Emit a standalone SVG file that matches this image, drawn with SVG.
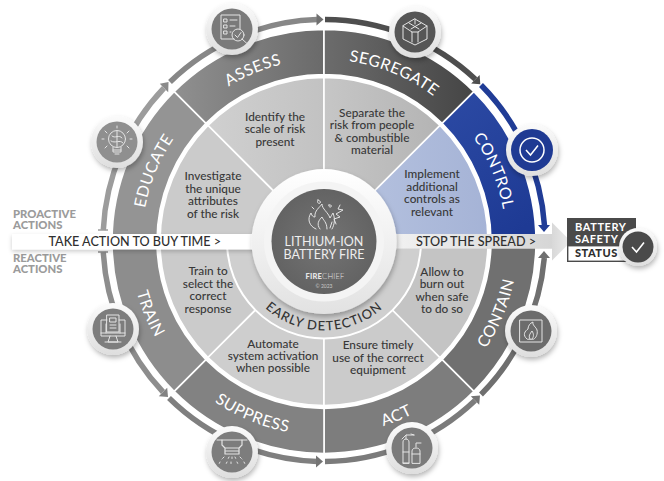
<svg xmlns="http://www.w3.org/2000/svg" xmlns:xlink="http://www.w3.org/1999/xlink" width="664" height="481" viewBox="0 0 664 481">
<style>
text{font-family:"Lato","Open Sans","Liberation Sans",sans-serif}
.body{font-size:11.8px;fill:#383838;text-anchor:middle;font-weight:500}
.seg{font-size:16px;fill:#fff;text-anchor:middle;letter-spacing:.5px}
.side{font-size:11.3px;font-weight:900;fill:#9b9b9b}
.bar{font-size:12.6px;fill:#2f2f2f;font-weight:500}
.sector{stroke:#fff;stroke-width:1.6}
.wedge{stroke:#fff;stroke-width:1.6}
.band{fill:none;stroke-width:5.5}
.ring{fill:url(#ringG);filter:url(#sh)}
.ic{fill:none;stroke:#e4e4e4;stroke-width:1;stroke-linecap:round;stroke-linejoin:round}
</style>
<defs>
<filter id="sh" x="-30%" y="-30%" width="160%" height="170%"><feDropShadow dx="1" dy="3" stdDeviation="2.5" flood-color="#000" flood-opacity=".28"/></filter>
<filter id="sb" x="-5%" y="-50%" width="110%" height="220%"><feDropShadow dx="0" dy="2" stdDeviation="2" flood-color="#000" flood-opacity=".2"/></filter>
<linearGradient id="ringG" x1="0" y1="0" x2="0" y2="1"><stop offset="0" stop-color="#fbfbfb"/><stop offset="1" stop-color="#dedede"/></linearGradient>
<linearGradient id="gAssess" gradientUnits="userSpaceOnUse" x1="174" y1="0" x2="324" y2="0"><stop offset="0" stop-color="#909090"/><stop offset="1" stop-color="#6a6a6a"/></linearGradient>
<linearGradient id="gSeg" gradientUnits="userSpaceOnUse" x1="324" y1="0" x2="474" y2="0"><stop offset="0" stop-color="#6c6c6c"/><stop offset="1" stop-color="#454545"/></linearGradient>
<linearGradient id="gCtl" gradientUnits="userSpaceOnUse" x1="445" y1="90" x2="536" y2="220"><stop offset="0" stop-color="#2c4aa4"/><stop offset="1" stop-color="#1e3a94"/></linearGradient>
<linearGradient id="gBlue" gradientUnits="userSpaceOnUse" x1="370" y1="0" x2="488" y2="0"><stop offset="0" stop-color="#b3c0de"/><stop offset="1" stop-color="#a5b3d6"/></linearGradient>
<linearGradient id="gSep" gradientUnits="userSpaceOnUse" x1="324" y1="0" x2="440" y2="0"><stop offset="0" stop-color="#c6c6c6"/><stop offset="1" stop-color="#b4b4b4"/></linearGradient>
<linearGradient id="gId" gradientUnits="userSpaceOnUse" x1="208" y1="0" x2="324" y2="0"><stop offset="0" stop-color="#d0d0d0"/><stop offset="1" stop-color="#c2c2c2"/></linearGradient>
<linearGradient id="gBar" gradientUnits="userSpaceOnUse" x1="390" y1="0" x2="552" y2="0"><stop offset="0" stop-color="#f2f2f2"/><stop offset="1" stop-color="#d6d6d6"/></linearGradient>
<linearGradient id="gHead" gradientUnits="userSpaceOnUse" x1="550" y1="0" x2="571" y2="0"><stop offset="0" stop-color="#d6d6d6"/><stop offset="1" stop-color="#ececec"/></linearGradient>
<radialGradient id="gHub" cx=".5" cy=".5" r=".5"><stop offset="0" stop-color="#747474"/><stop offset="1" stop-color="#636363"/></radialGradient>
<linearGradient id="gHubR" x1="0" y1="0" x2="0" y2="1"><stop offset="0" stop-color="#ffffff"/><stop offset="1" stop-color="#e2e2e2"/></linearGradient>
<path id="pAssess" d="M162.6 157.5A182 182 0 0 1 378.7 67.9"/>
<path id="pSeg" d="M269.3 67.9A182 182 0 0 1 485.4 157.5"/>
<path id="pCtl" d="M408 80.1A182 182 0 0 1 497.6 296.2"/>
<path id="pEdu" d="M150.4 296.2A182 182 0 0 1 240 80.1"/>
<path id="pCon" d="M413.6 413.6A194 194 0 0 0 509 183.2"/>
<path id="pAct" d="M265.7 426.5A194 194 0 0 0 496.1 331.1"/>
<path id="pSup" d="M151.9 331.1A194 194 0 0 0 382.3 426.5"/>
<path id="pTra" d="M139 183.2A194 194 0 0 0 234.4 413.6"/>
<path id="pEarly" d="M247 286A89 89 0 0 0 401 286"/>
</defs>

<rect width="664" height="481" fill="#fff"/>

<g id="sectors">
<path class="wedge" fill="url(#gId)" d="M324 241.5L208 125.5A164 164 0 0 1 324 77.5Z"/>
<path class="wedge" fill="url(#gSep)" d="M324 241.5V77.5A164 164 0 0 1 440 125.5Z"/>
<path class="wedge" fill="url(#gBlue)" d="M324 241.5L440 125.5A164 164 0 0 1 488 241.5Z"/>
<path class="wedge" fill="#cbcbcb" d="M324 241.5H160A164 164 0 0 1 208 125.5Z"/>
<path class="wedge" fill="#cbcbcb" d="M324 241.5L208 357.5A164 164 0 0 1 160 241.5Z"/>
<path class="wedge" fill="#cecece" d="M324 241.5V405.5A164 164 0 0 1 208 357.5Z"/>
<path class="wedge" fill="#cbcbcb" d="M324 241.5L440 357.5A164 164 0 0 1 324 405.5Z"/>
<path class="wedge" fill="#c4c4c4" d="M324 241.5H488A164 164 0 0 1 440 357.5Z"/>
<path fill="#cfcfcf" stroke="#fff" stroke-width="2" d="M227 241.5A97 97 0 0 0 421 241.5Z"/>
</g>

<g id="connectors">
<path class="band" stroke="#9c9c9c" d="M103.3 230A221 221 0 0 1 164 88"/>
<path class="band" stroke="#878787" d="M170 82A221 221 0 0 1 317 19.5"/>
<path class="band" stroke="#4e4e4e" d="M325 19.5A221 221 0 0 1 475.4 79.3"/>
<path class="band" stroke="#203c96" d="M481 85A221 221 0 0 1 544.5 225.5"/>
<path class="band" stroke="#6f6f6f" d="M544.3 258A221 221 0 0 1 481 394.5"/>
<path class="band" stroke="#7b7b7b" d="M475 400.5A221 221 0 0 1 325 461.5"/>
<path class="band" stroke="#7f7f7f" d="M317 461.5A221 221 0 0 1 169 398"/>
<path class="band" stroke="#8d8d8d" d="M163 392A221 221 0 0 1 103.3 252"/>
<path fill="#8a8a8a" d="M168.5 82L159.8 83.8L168.2 92.2Z"/>
<path fill="#707070" d="M323.5 19.5L316.5 13.5V25.5Z"/>
<path fill="#4e4e4e" d="M480.3 84.2L479.6 75.1L471.2 83.5Z"/>
<path fill="#203c96" d="M544 232L538 225H550Z"/>
<path fill="#6f6f6f" d="M544 251L538 258H550Z"/>
<path fill="#747474" d="M480 395.5L470.8 396.3L479.2 404.7Z"/>
<path fill="#747474" d="M323 461.5L316 455.5V467.5Z"/>
<path fill="#828282" d="M168 397L158.8 396.2L167.2 387.8Z"/>
<path stroke="#9c9c9c" stroke-width="1.5" d="M98 230H108"/>
<path stroke="#8d8d8d" stroke-width="1.5" d="M98 252H108"/>
</g>

<g id="ASSESS"><path class="sector" fill="url(#gAssess)" d="M174.1 91.6A212 212 0 0 1 324 29.5V74.5A167 167 0 0 0 205.9 123.4Z"/><text class="seg"><textPath href="#pAssess" xlink:href="#pAssess" startOffset="50%">ASSESS</textPath></text></g>
<g id="SEGREGATE"><path class="sector" fill="url(#gSeg)" d="M324 29.5A212 212 0 0 1 473.9 91.6L442.1 123.4A167 167 0 0 0 324 74.5Z"/><text class="seg"><textPath href="#pSeg" xlink:href="#pSeg" startOffset="50%">SEGREGATE</textPath></text></g>
<g id="CONTROL"><path class="sector" fill="url(#gCtl)" d="M473.9 91.6A212 212 0 0 1 536 241.5H491A167 167 0 0 0 442.1 123.4Z"/><text class="seg"><textPath href="#pCtl" xlink:href="#pCtl" startOffset="50%">CONTROL</textPath></text></g>
<g id="CONTAIN"><path class="sector" fill="#707070" d="M536 241.5A212 212 0 0 1 473.9 391.4L442.1 359.6A167 167 0 0 0 491 241.5Z"/><text class="seg"><textPath href="#pCon" xlink:href="#pCon" startOffset="50%">CONTAIN</textPath></text></g>
<g id="ACT"><path class="sector" fill="#7d7d7d" d="M473.9 391.4A212 212 0 0 1 324 453.5V408.5A167 167 0 0 0 442.1 359.6Z"/><text class="seg"><textPath href="#pAct" xlink:href="#pAct" startOffset="50%">ACT</textPath></text></g>
<g id="SUPPRESS"><path class="sector" fill="#828282" d="M324 453.5A212 212 0 0 1 174.1 391.4L205.9 359.6A167 167 0 0 0 324 408.5Z"/><text class="seg"><textPath href="#pSup" xlink:href="#pSup" startOffset="50%">SUPPRESS</textPath></text></g>
<g id="TRAIN"><path class="sector" fill="#8d8d8d" d="M174.1 391.4A212 212 0 0 1 112 241.5H157A167 167 0 0 0 205.9 359.6Z"/><text class="seg"><textPath href="#pTra" xlink:href="#pTra" startOffset="50%">TRAIN</textPath></text></g>
<g id="EDUCATE"><path class="sector" fill="#949494" d="M112 241.5A212 212 0 0 1 174.1 91.6L205.9 123.4A167 167 0 0 0 157 241.5Z"/><text class="seg"><textPath href="#pEdu" xlink:href="#pEdu" startOffset="50%">EDUCATE</textPath></text></g>

<g id="texts">
<text class="body"><tspan x="275" y="120.5">Identify the</tspan><tspan x="275" y="133">scale of risk</tspan><tspan x="275" y="145.5">present</tspan></text>
<text class="body"><tspan x="372" y="117">Separate the</tspan><tspan x="372" y="129.3">risk from people</tspan><tspan x="372" y="141.5">&amp; combustible</tspan><tspan x="372" y="153.8">material</tspan></text>
<text class="body"><tspan x="432" y="178">Implement</tspan><tspan x="432" y="190.6">additional</tspan><tspan x="432" y="203.2">controls as</tspan><tspan x="432" y="215.8">relevant</tspan></text>
<text class="body"><tspan x="213" y="180">Investigate</tspan><tspan x="213" y="192.5">the unique</tspan><tspan x="213" y="205">attributes</tspan><tspan x="213" y="217.5">of the risk</tspan></text>
<text class="body"><tspan x="208" y="275">Train to</tspan><tspan x="208" y="287.5">select the</tspan><tspan x="208" y="300">correct</tspan><tspan x="208" y="312.5">response</tspan></text>
<text class="body"><tspan x="442" y="275.5">Allow to</tspan><tspan x="442" y="288">burn out</tspan><tspan x="442" y="300.5">when safe</tspan><tspan x="442" y="313">to do so</tspan></text>
<text class="body"><tspan x="273" y="347.7">Automate</tspan><tspan x="273" y="360">system activation</tspan><tspan x="273" y="372.3">when possible</tspan></text>
<text class="body"><tspan x="378" y="349.3">Ensure timely</tspan><tspan x="378" y="361.7">use of the correct</tspan><tspan x="378" y="374">equipment</tspan></text>
<text font-size="13" fill="#333" text-anchor="middle" letter-spacing="1" font-weight="500"><textPath href="#pEarly" xlink:href="#pEarly" startOffset="50%">EARLY DETECTION</textPath></text>
<text class="side" x="13" y="218.3">PROACTIVE</text><text class="side" x="13" y="229.3">ACTIONS</text>
<text class="side" x="13" y="262.3">REACTIVE</text><text class="side" x="13" y="273.3">ACTIONS</text>
</g>

<g id="bars">
<rect x="12" y="234" width="244" height="15.5" fill="#fff" filter="url(#sb)"/>
<path fill="url(#gHead)" d="M552 222.5L571 241.5L552 260.5V248.5H392V234H552Z"/>
<rect x="392" y="234" width="160" height="14.5" fill="url(#gBar)"/>
<text class="bar" x="48.5" y="245.500">TAKE ACTION TO BUY TIME &gt;</text>
<text class="bar" x="416" y="245.500">STOP THE SPREAD &gt;</text>
</g>

<g id="hub">
<circle cx="324" cy="241.5" r="72.5" fill="url(#gHubR)" filter="url(#sh)"/>
<circle cx="324" cy="241.5" r="60" fill="#f4f4f4"/>
<circle cx="324" cy="241.5" r="52.5" fill="url(#gHub)"/>
<g class="ic" stroke-width=".9">
<path d="M316 229C309 226 307 219 311 213C312 216 313 217 315 217C314 211 320 207 322 204C322 209 328 212 330 218C331 216 332 215 333 213C335 218 335 224 332 229"/>
<path d="M320 229C316 224 319 220 322 217C323 220 327 222 327 229M330 228L332 222"/>
<path d="M336 224L334 219L340 217L336 214L343 210L338 209L340 205"/>
<path d="M318 200C316 203 320 205 320.500 202C320.500 201 319 201 318 200ZM329 205C328 207 331 208 331.500 206C331.500 205 330 205 329 205ZM312 207L314 209"/>
</g>
<text x="324" y="245.700" font-size="12.500" fill="#eee" text-anchor="middle">LITHIUM-ION</text>
<text x="324" y="258.600" font-size="12.500" fill="#eee" text-anchor="middle">BATTERY FIRE</text>
<text x="325" y="279" font-size="7.500" fill="#e6e6e6" text-anchor="middle" letter-spacing=".2"><tspan font-weight="900">FIRE</tspan><tspan font-weight="300">CHIEF</tspan></text>
<text x="324" y="287.500" font-size="5" fill="#c8c8c8" text-anchor="middle">© 2023</text>
</g>

<g id="node-assess" transform="translate(232 29)"><circle class="ring" r="26"/><circle r="20.500" fill="#7a7a7a"/><g class="ic"><path d="M2 10H-11V-14H8V0"/><path d="M-8 -10h3v3h-3zM-8 -4h3v3h-3zM-8 2h3v3h-3zM-2 -9H5M-2 -3H3M-2 3H-1"/><circle cx="6" cy="6" r="6"/><path d="M10 10L15.500 15M3 6L5.500 8.500L9 3.500"/></g></g>
<g id="node-segregate" transform="translate(415 32)"><circle class="ring" r="26"/><circle r="20.500" fill="#565656"/><g class="ic"><path d="M0 -13L12 -6V7L0 13L-12 7V-6ZM-12 -6L-3 0V10M12 -6L3 0V10M-3 0H3M0 -13V-8M-6 -9L4 -3M6 -9L-4 -3"/></g></g>
<g id="node-control" transform="translate(532 150)"><circle class="ring" r="26"/><circle r="21" fill="#1f3a93"/><g fill="none" stroke="#fff" stroke-width="1.500"><circle r="12"/><path d="M-6 0L-1.500 5L6 -4.500"/></g></g>
<g id="node-educate" transform="translate(117 142)"><circle class="ring" r="26"/><circle r="20.500" fill="#8f8f8f"/><g class="ic"><circle cy="-3" r="8.500"/><path d="M-4 5V10H4V5M-4 8H4M-2 12H2M-5 -6C-2 -3 2 -8 5 -4M-6 -1C-2 2 3 -3 6 1M0 -11V5M0 -14V-16M-10 -9L-12 -11M10 -9L12 -11M-13 -3H-15M13 -3H15M-10 4L-12 6M10 4L12 6"/></g></g>
<g id="node-train" transform="translate(113 329)"><circle class="ring" r="26"/><circle r="20.500" fill="#7d7d7d"/><g class="ic"><path d="M-6 -9H-12V7H12V-9H6M-7 -5V4M7 -5V4M-12 4H12M-3 7L-5 13H5L3 7M-8 13H8"/><path d="M-6 -14H6V3H-6ZM-3 -11H3V-7H-3ZM-3 -4H3M-3 -1H3"/></g></g>
<g id="node-suppress" transform="translate(232 452)"><circle class="ring" r="26"/><circle r="20.500" fill="#7d7d7d"/><g class="ic"><path d="M-15 -12H15"/><path d="M-10 -12V-7L-7 -4V2H7V-4L10 -7V-12M-7 -4H7M-6 -1H6" stroke-width="1.200"/><path d="M-3 5L-4 7M3 5L4 7M0 5V7M-8 5L-10 7M8 5L10 7M-5 10L-6 12M5 10L6 12M-1 10V12M-12 10L-13 12M12 10L13 12" stroke-dasharray="1.500 1"/></g></g>
<g id="node-act" transform="translate(412 448)"><circle class="ring" r="26"/><circle r="20.500" fill="#7b7b7b"/><g class="ic"><path d="M-9 15V-6C-9 -10 -3 -10 -3 -6V15ZM-9 15H-3M-6 -9V-13H2M-6 -13L-10 -9M2 -13L-1 -14"/><path d="M0 15V3C0 -1 8 -1 8 3V15ZM4 -1V-5H9M-9 4H-3M0 6H8"/></g></g>
<g id="node-contain" transform="translate(531 331)"><circle class="ring" r="26"/><circle r="20.500" fill="#6c6c6c"/><g class="ic"><path d="M-11 -11H11V11H-11Z"/><path d="M-4 8C-9 4 -6 0 -3 -2C-3 -5 -1 -8 2 -9C1 -6 5 -4 6 -1C7 3 5 7 3 8ZM-1 8C-3 5 -1 3 1 0C3 3 3 6 1 8"/></g></g>

<g id="node-status">
<rect x="567" y="218" width="69" height="28" fill="#4a4a4a"/>
<rect x="567.700" y="245.700" width="60" height="15.600" fill="#fff" stroke="#4a4a4a" stroke-width="1.400"/>
<text x="575" y="231" font-size="11" font-weight="700" fill="#fff" letter-spacing=".6">BATTERY</text>
<text x="575" y="242.500" font-size="11" font-weight="700" fill="#fff" letter-spacing=".6">SAFETY</text>
<text x="575" y="257" font-size="11" font-weight="900" fill="#2f2f2f" letter-spacing=".5">STATUS</text>
<circle cx="638" cy="247" r="19" class="ring"/>
<circle cx="638" cy="247" r="15.500" fill="#4a4a4a"/>
<path d="M632 247L636.500 252L644 242.500" fill="none" stroke="#fff" stroke-width="1.600"/>
</g>
</svg>
